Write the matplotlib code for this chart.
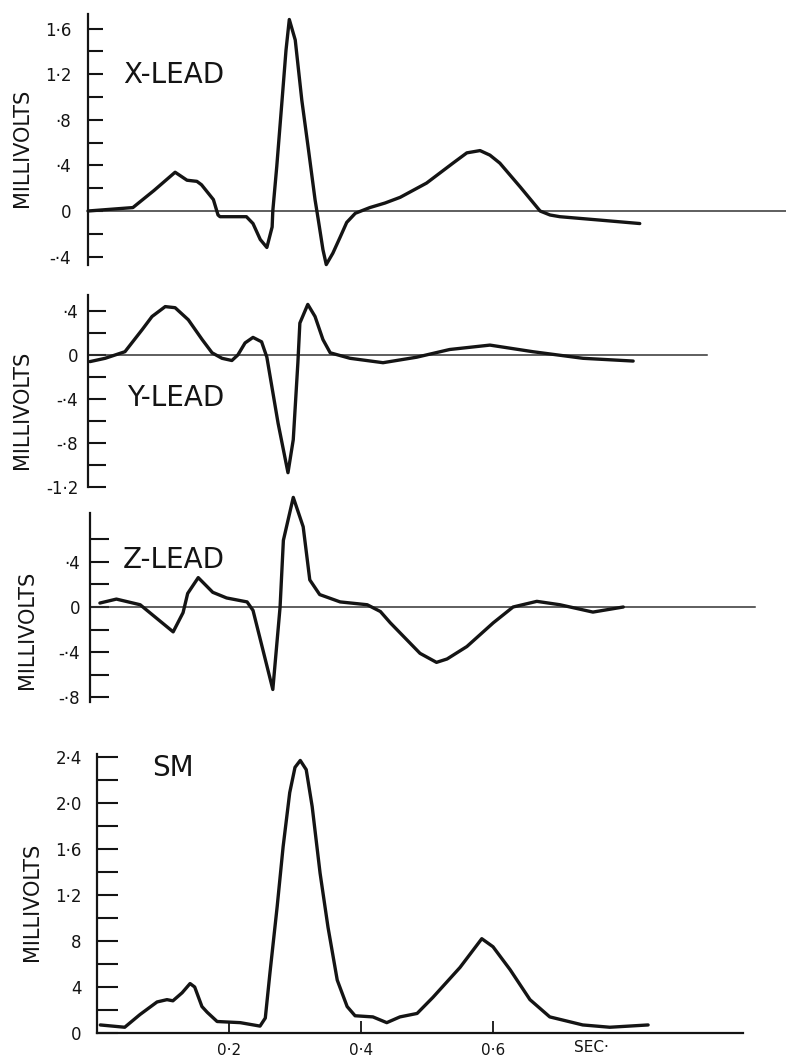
import matplotlib.pyplot as plt

W, H = 786, 1056
PX_PER_SEC = 660

# X lead (time in s, millivolts)
x_t = [0.0, 0.068, 0.100, 0.132, 0.150, 0.165, 0.172, 0.190, 0.197, 0.200, 0.240,
       0.250, 0.261, 0.271, 0.279, 0.280, 0.286, 0.294, 0.300, 0.305, 0.314, 0.324,
       0.334, 0.344, 0.349, 0.356, 0.361, 0.371, 0.382, 0.392, 0.405, 0.427, 0.450,
       0.473, 0.513, 0.553, 0.574, 0.594, 0.609, 0.624, 0.655, 0.685, 0.700, 0.715,
       0.776, 0.836]
x_mv = [0.0, 0.03, 0.18, 0.34, 0.27, 0.26, 0.23, 0.10, -0.035, -0.05, -0.05,
        -0.11, -0.25, -0.32, -0.14, 0.0, 0.39, 0.97, 1.41, 1.68, 1.50, 0.97,
        0.54, 0.10, -0.08, -0.34, -0.47, -0.37, -0.23, -0.10, -0.02, 0.03, 0.07,
        0.12, 0.245, 0.42, 0.51, 0.53, 0.49, 0.42, 0.21, 0.0, -0.035, -0.05,
        -0.08, -0.11]

# Y lead
y_t = [0.003, 0.026, 0.056, 0.082, 0.097, 0.117, 0.132, 0.152, 0.173, 0.188, 0.203,
       0.218, 0.227, 0.238, 0.250, 0.263, 0.271, 0.288, 0.303, 0.311, 0.318, 0.321,
       0.333, 0.344, 0.356, 0.367, 0.397, 0.447, 0.498, 0.548, 0.609, 0.674, 0.750,
       0.826]
y_mv = [-0.06, -0.03, 0.03, 0.23, 0.35, 0.44, 0.43, 0.32, 0.14, 0.02, -0.03,
        -0.05, 0.0, 0.11, 0.16, 0.12, -0.02, -0.62, -1.07, -0.77, -0.07, 0.29,
        0.46, 0.35, 0.14, 0.02, -0.03, -0.07, -0.02, 0.05, 0.09, 0.03, -0.03,
        -0.055]

# Z lead
z_t = [0.015, 0.040, 0.076, 0.126, 0.141, 0.148, 0.164, 0.186, 0.207, 0.238, 0.247,
       0.277, 0.288, 0.293, 0.308, 0.323, 0.333, 0.348, 0.379, 0.420, 0.440, 0.455,
       0.480, 0.500, 0.525, 0.541, 0.571, 0.611, 0.641, 0.677, 0.712, 0.762, 0.808]
z_mv = [0.035, 0.07, 0.02, -0.22, -0.05, 0.12, 0.26, 0.13, 0.08, 0.045, -0.03,
        -0.73, 0.0, 0.59, 0.97, 0.71, 0.24, 0.11, 0.045, 0.02, -0.04, -0.14,
        -0.29, -0.41, -0.49, -0.46, -0.35, -0.14, 0.0, 0.05, 0.02, -0.045, 0.0]

# spatial magnitude
sm_t = [0.005, 0.042, 0.065, 0.091, 0.106, 0.115, 0.129, 0.141, 0.148, 0.159, 0.167,
        0.182, 0.217, 0.247, 0.255, 0.262, 0.273, 0.282, 0.292, 0.300, 0.308, 0.317,
        0.326, 0.338, 0.350, 0.364, 0.379, 0.391, 0.418, 0.439, 0.459, 0.485, 0.509,
        0.550, 0.583, 0.600, 0.626, 0.656, 0.686, 0.736, 0.777, 0.835]
sm_mv = [0.07, 0.05, 0.16, 0.27, 0.29, 0.28, 0.35, 0.43, 0.40, 0.23, 0.18,
         0.10, 0.09, 0.06, 0.13, 0.52, 1.10, 1.62, 2.09, 2.31, 2.37, 2.29,
         1.97, 1.39, 0.92, 0.46, 0.23, 0.15, 0.14, 0.09, 0.14, 0.17, 0.31,
         0.57, 0.82, 0.75, 0.55, 0.29, 0.14, 0.07, 0.05, 0.07]

x_ticks = [-0.4, -0.2, 0.0, 0.2, 0.4, 0.6, 0.8, 1.0, 1.2, 1.4, 1.6]
x_labels = ["-·4", "", "0", "", "·4", "", "·8", "", "1·2", "", "1·6"]
y_ticks = [-1.2, -1.0, -0.8, -0.6, -0.4, -0.2, 0.0, 0.2, 0.4]
y_labels = ["-1·2", "", "-·8", "", "-·4", "", "0", "", "·4"]
z_ticks = [-0.8, -0.6, -0.4, -0.2, 0.0, 0.2, 0.4, 0.6]
z_labels = ["-·8", "", "-·4", "", "0", "", "·4", ""]
sm_ticks = [0.0, 0.2, 0.4, 0.6, 0.8, 1.0, 1.2, 1.4, 1.6, 1.8, 2.0, 2.2, 2.4]
sm_labels = ["0", "", "4", "", "8", "", "1·2", "", "1·6", "", "2·0", "", "2·4"]
time_ticks = [0.2, 0.4, 0.6]
time_labels = ["0·2", "0·4", "0·6"]

INK = "#141414"
plt.rcParams["font.family"] = ["DejaVu Sans"]

fig = plt.figure(figsize=(W / 100, H / 100), dpi=100)


def panel(left_px, zero_px, scale, lo, hi, spine_lo, spine_hi, ticks, labels,
          tick_len, pad):
    top_px = zero_px - hi * scale
    bot_px = zero_px - lo * scale
    ax = fig.add_axes([left_px / W, 1 - bot_px / H, (W - left_px) / W,
                       (bot_px - top_px) / H])
    ax.set_xlim(0, (W - left_px) / PX_PER_SEC)
    ax.set_ylim(lo, hi)
    ax.patch.set_alpha(0)
    for s in ["top", "right", "bottom"]:
        ax.spines[s].set_visible(False)
    ax.spines["left"].set_bounds(spine_lo, spine_hi)
    ax.spines["left"].set_linewidth(1.6)
    ax.spines["left"].set_color(INK)
    ax.set_yticks(ticks)
    ax.set_yticklabels(labels)
    ax.tick_params(axis="y", direction="in", length=tick_len, width=1.5,
                   pad=pad, labelsize=12, colors=INK)
    ax.set_xticks([])
    return ax


def trace(ax, t, v):
    ax.plot(t, v, color=INK, lw=2.4, solid_joinstyle="round",
            solid_capstyle="round", clip_on=False)


def baseline(ax, t_end):
    ax.plot([0, t_end], [0, 0], color="#333333", lw=1.1, clip_on=False)


# X lead
ax1 = panel(88, 211, 114, -0.5, 1.75, -0.47, 1.73, x_ticks, x_labels, 10.5, 12)
baseline(ax1, (W - 88) / PX_PER_SEC)
trace(ax1, x_t, x_mv)

# Y lead
ax2 = panel(88, 355, 110, -1.22, 0.57, -1.2, 0.545, y_ticks, y_labels, 13, 7)
baseline(ax2, (707 - 88) / PX_PER_SEC)
trace(ax2, y_t, y_mv)

# Z lead
ax3 = panel(90, 607, 113, -0.86, 1.0, -0.84, 0.83, z_ticks, z_labels, 14, 7)
baseline(ax3, (755 - 90) / PX_PER_SEC)
trace(ax3, z_t, z_mv)

# SM
ax4 = panel(97, 1033, 115, 0.0, 2.45, 0.0, 2.43, sm_ticks, sm_labels, 15, 11)
ax4.spines["bottom"].set_visible(True)
ax4.spines["bottom"].set_bounds(0, (743 - 97) / PX_PER_SEC)
ax4.spines["bottom"].set_linewidth(1.6)
ax4.spines["bottom"].set_color(INK)
ax4.set_xticks(time_ticks)
ax4.set_xticklabels(time_labels)
ax4.tick_params(axis="x", direction="in", length=9, width=1.3, pad=7,
                labelsize=11, colors=INK)
trace(ax4, sm_t, sm_mv)
fig.text(591 / W, 1 - 1048 / H, "SEC·", fontsize=11, color=INK,
         ha="center", va="center")

# panel titles
for x, y, name in [(123, 75, "X-LEAD"), (127, 398, "Y-LEAD"),
                   (123, 560, "Z-LEAD"), (152, 768, "SM")]:
    fig.text(x / W, 1 - y / H, name, fontsize=20, color=INK,
             ha="left", va="center")

# axis labels
for x, y in [(22, 148), (22, 410), (27, 630), (32, 902)]:
    fig.text(x / W, 1 - y / H, "MILLIVOLTS", fontsize=15, color=INK,
             rotation=90, ha="center", va="center")

fig.savefig("out.png", dpi=100, facecolor="white")
